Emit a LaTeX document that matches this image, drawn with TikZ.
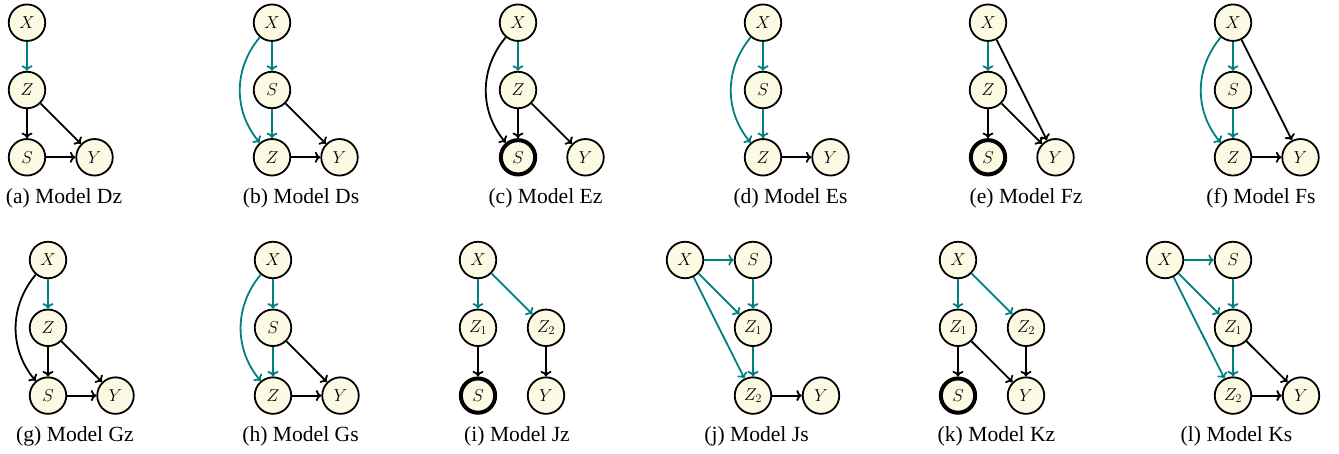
\documentclass[tikz,border=0pt]{standalone}
\usepackage{fontspec}
\setmainfont{Liberation Serif}
\usetikzlibrary{arrows.meta}
\definecolor{nodefill}{RGB}{253,250,228}
\definecolor{tealc}{RGB}{0,128,128}
\tikzset{
  var/.style={circle, draw=black, line width=1.8pt, fill=nodefill, minimum size=36.5pt, inner sep=0pt, font=\fontsize{17}{20}\selectfont},
  sel/.style={var, line width=4pt, minimum size=34.3pt},
  arr/.style={-{To[length=5.5pt,width=11pt]}, line width=1.8pt, black},
  tarr/.style={arr, tealc},
  captext/.style={font=\fontsize{21.6}{24}\selectfont, inner sep=0pt, anchor=base}
}
\begin{document}
\begin{tikzpicture}[x=1pt,y=-1pt]
\useasboundingbox (0,0) rectangle (1339,454);
% (a)
\node[var] (aX) at (27,22.7) {$X$};
\node[var] (aZ) at (27,90) {$Z$};
\node[var] (aS) at (27,157.3) {$S$};
\node[var] (aY) at (94.5,157.3) {$Y$};
\draw[tarr] (aX) -- (aZ);
\draw[arr] (aZ) -- (aS);
\draw[arr] (aZ) -- (aY);
\draw[arr] (aS) -- (aY);
\node[captext] (acap) at (64,204) {(a) Model Dz};
% (b)
\node[var] (bX) at (272,22.7) {$X$};
\node[var] (bS) at (272,90) {$S$};
\node[var] (bZ) at (272,157.3) {$Z$};
\node[var] (bY) at (339.5,157.3) {$Y$};
\draw[tarr] (bX) -- (bS);
\draw[tarr] (bX) to[bend right=40] (bZ);
\draw[tarr] (bS) -- (bZ);
\draw[arr] (bS) -- (bY);
\draw[arr] (bZ) -- (bY);
\node[captext] (bcap) at (301,204) {(b) Model Ds};
% (c)
\node[var] (cX) at (518,22.7) {$X$};
\node[var] (cZ) at (518,90) {$Z$};
\node[sel] (cS) at (518,157.3) {$S$};
\node[var] (cY) at (585.5,157.3) {$Y$};
\draw[tarr] (cX) -- (cZ);
\draw[arr] (cX) to[bend right=40] (cS);
\draw[arr] (cZ) -- (cS);
\draw[arr] (cZ) -- (cY);
\node[captext] (ccap) at (545.5,204) {(c) Model Ez};
% (d)
\node[var] (dX) at (763,22.7) {$X$};
\node[var] (dS) at (763,90) {$S$};
\node[var] (dZ) at (763,157.3) {$Z$};
\node[var] (dY) at (830.5,157.3) {$Y$};
\draw[tarr] (dX) -- (dS);
\draw[tarr] (dX) to[bend right=40] (dZ);
\draw[tarr] (dS) -- (dZ);
\draw[arr] (dZ) -- (dY);
\node[captext] (dcap) at (790.5,204) {(d) Model Es};
% (e)
\node[var] (eX) at (988,22.7) {$X$};
\node[var] (eZ) at (988,90) {$Z$};
\node[sel] (eS) at (988,157.3) {$S$};
\node[var] (eY) at (1055.5,157.3) {$Y$};
\draw[tarr] (eX) -- (eZ);
\draw[arr] (eX) -- (eY);
\draw[arr] (eZ) -- (eS);
\draw[arr] (eZ) -- (eY);
\node[captext] (ecap) at (1026,204) {(e) Model Fz};
% (f)
\node[var] (fX) at (1233,22.7) {$X$};
\node[var] (fS) at (1233,90) {$S$};
\node[var] (fZ) at (1233,157.3) {$Z$};
\node[var] (fY) at (1300.5,157.3) {$Y$};
\draw[tarr] (fX) -- (fS);
\draw[tarr] (fX) to[bend right=40] (fZ);
\draw[tarr] (fS) -- (fZ);
\draw[arr] (fX) -- (fY);
\draw[arr] (fZ) -- (fY);
\node[captext] (fcap) at (1261,204) {(f) Model Fs};
% (g)
\node[var] (gX) at (48,260) {$X$};
\node[var] (gZ) at (48,327.8) {$Z$};
\node[var] (gS) at (48,395.6) {$S$};
\node[var] (gY) at (115.5,395.6) {$Y$};
\draw[tarr] (gX) -- (gZ);
\draw[arr] (gX) to[bend right=40] (gS);
\draw[arr] (gZ) -- (gS);
\draw[arr] (gZ) -- (gY);
\draw[arr] (gS) -- (gY);
\node[captext] (gcap) at (75,441.5) {(g) Model Gz};
% (h)
\node[var] (hX) at (273,260) {$X$};
\node[var] (hS) at (273,327.8) {$S$};
\node[var] (hZ) at (273,395.6) {$Z$};
\node[var] (hY) at (340.5,395.6) {$Y$};
\draw[tarr] (hX) -- (hS);
\draw[tarr] (hX) to[bend right=40] (hZ);
\draw[tarr] (hS) -- (hZ);
\draw[arr] (hS) -- (hY);
\draw[arr] (hZ) -- (hY);
\node[captext] (hcap) at (300.5,441.5) {(h) Model Gs};
% (i)
\node[var] (iX) at (478,260) {$X$};
\node[var] (iZa) at (478,327.8) {$Z_1$};
\node[var] (iZb) at (546,327.8) {$Z_2$};
\node[sel] (iS) at (478,395.6) {$S$};
\node[var] (iY) at (546,395.6) {$Y$};
\draw[tarr] (iX) -- (iZa);
\draw[tarr] (iX) -- (iZb);
\draw[arr] (iZa) -- (iS);
\draw[arr] (iZb) -- (iY);
\node[captext] (icap) at (517,441.5) {(i) Model Jz};
% (j)
\node[var] (jX) at (685,260) {$X$};
\node[var] (jS) at (753,260) {$S$};
\node[var] (jZa) at (753,327.8) {$Z_1$};
\node[var] (jZb) at (753,395.6) {$Z_2$};
\node[var] (jY) at (821,395.6) {$Y$};
\draw[tarr] (jX) -- (jS);
\draw[tarr] (jX) -- (jZa);
\draw[tarr] (jX) -- (jZb);
\draw[tarr] (jS) -- (jZa);
\draw[tarr] (jZa) -- (jZb);
\draw[arr] (jZb) -- (jY);
\node[captext] (jcap) at (756.5,441.5) {(j) Model Js};
% (k)
\node[var] (kX) at (958,260) {$X$};
\node[var] (kZa) at (958,327.8) {$Z_1$};
\node[var] (kZb) at (1026,327.8) {$Z_2$};
\node[sel] (kS) at (958,395.6) {$S$};
\node[var] (kY) at (1026,395.6) {$Y$};
\draw[tarr] (kX) -- (kZa);
\draw[tarr] (kX) -- (kZb);
\draw[arr] (kZa) -- (kS);
\draw[arr] (kZa) -- (kY);
\draw[arr] (kZb) -- (kY);
\node[captext] (kcap) at (996.5,441.5) {(k) Model Kz};
% (l)
\node[var] (lX) at (1165,260) {$X$};
\node[var] (lS) at (1233,260) {$S$};
\node[var] (lZa) at (1233,327.8) {$Z_1$};
\node[var] (lZb) at (1233,395.6) {$Z_2$};
\node[var] (lY) at (1301,395.6) {$Y$};
\draw[tarr] (lX) -- (lS);
\draw[tarr] (lX) -- (lZa);
\draw[tarr] (lX) -- (lZb);
\draw[tarr] (lS) -- (lZa);
\draw[tarr] (lZa) -- (lZb);
\draw[arr] (lZa) -- (lY);
\draw[arr] (lZb) -- (lY);
\node[captext] (lcap) at (1236.5,441.5) {(l) Model Ks};
\end{tikzpicture}
\end{document}
